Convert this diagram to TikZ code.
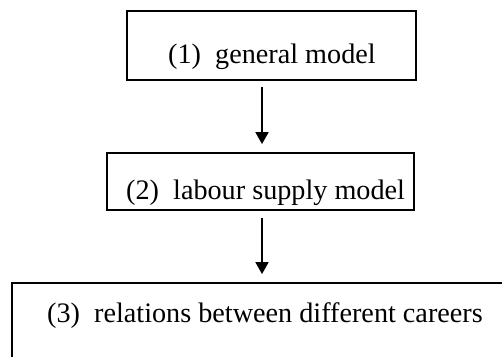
\documentclass[tikz,border=0pt]{standalone}
\usepackage{fontspec}
\setmainfont{Liberation Serif}
\usetikzlibrary{arrows.meta}
\begin{document}
\begin{tikzpicture}[x=1pt,y=1pt,
  boxst/.style={draw, line width=1.8pt, inner sep=0pt, minimum width=#1},
  lbl/.style={anchor=base west, inner sep=0pt, font=\fontsize{28.2}{34}\selectfont},
  arr/.style={line width=1.8pt, -{Triangle[width=13pt,length=12pt]}}]
\clip (0,0) rectangle (502,356);
\node[boxst=289pt, minimum height=69pt] (box1) at (271.5,310.5) {};
\node[boxst=307pt, minimum height=57pt] (box2) at (260.5,174.5) {};
\node[boxst=508pt, minimum height=87pt] (box3) at (266,29.5) {};
\node[lbl] (t1) at (168,292) {(1)\ \ general model};
\node[lbl] (t2) at (126,157) {(2)\ \ labour supply model};
\node[lbl] (t3) at (47,34) {(3)\ \ relations between different careers};
\coordinate (ax) at (262,0);
\draw[arr, shorten <=6pt, shorten >=8pt] (ax |- box1.south) -- (ax |- box2.north);
\draw[arr, shorten <=7pt, shorten >=8pt] (ax |- box2.south) -- (ax |- box3.north);
\end{tikzpicture}
\end{document}
